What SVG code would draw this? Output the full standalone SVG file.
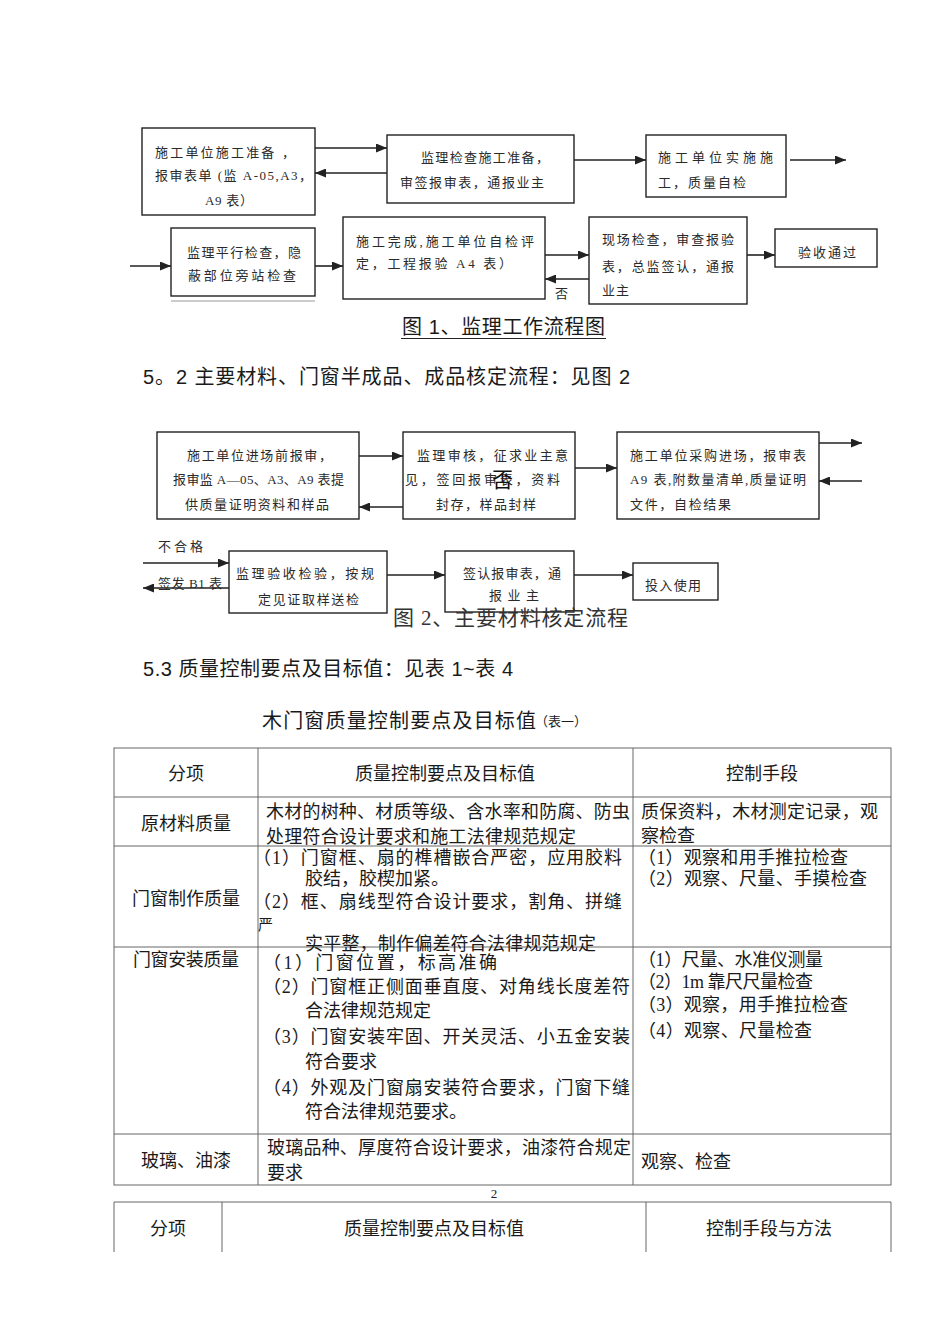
<svg xmlns="http://www.w3.org/2000/svg" width="950" height="1344" viewBox="0 0 950 1344">
<defs>
<marker id="ah" markerUnits="userSpaceOnUse" markerWidth="11" markerHeight="9" refX="11" refY="4.5" orient="auto">
<path d="M0,0 L11,4.5 L0,9 z" fill="#222"/>
</marker>
<style>
.bx{fill:none;stroke:#222;stroke-width:1.4}
.cn{fill:none;stroke:#222;stroke-width:1.6;marker-end:url(#ah)}
.ft{font-family:"Liberation Serif","Noto Sans CJK SC",serif;font-size:13px;fill:#2a2a2a}
.tb{font-family:"Liberation Serif","Noto Sans CJK SC",serif;font-size:18px;fill:#1a1a1a}
.hd{font-family:"Liberation Sans","Noto Sans CJK SC",sans-serif;font-size:20px;fill:#1a1a1a}
.c{text-anchor:middle}
.tl{stroke:#666;stroke-width:1;fill:none}
</style>
</defs>
<rect width="950" height="1344" fill="#fff"/>

<!-- Figure 1 -->
<g id="f1-a"><rect class="bx" x="142" y="128" width="173" height="87"/>
<text class="ft" x="155" y="157" textLength="140" lengthAdjust="spacing">施工单位施工准备 ，</text>
<text class="ft" x="155" y="180" textLength="157" lengthAdjust="spacing">报审表单 (监 A-05,A3，</text>
<text class="ft" x="205" y="205" textLength="48" lengthAdjust="spacing">A9 表）</text></g>
<g id="f1-b"><rect class="bx" x="387" y="135" width="187" height="68"/>
<text class="ft" x="421" y="162" textLength="128" lengthAdjust="spacing">监理检查施工准备，</text>
<text class="ft" x="400" y="187" textLength="144" lengthAdjust="spacing">审签报审表，通报业主</text></g>
<g id="f1-c"><rect class="bx" x="646" y="135" width="140" height="62"/>
<text class="ft" x="658" y="162" textLength="115" lengthAdjust="spacing">施工单位实施施</text>
<text class="ft" x="658" y="187" textLength="88" lengthAdjust="spacing">工，质量自检</text></g>
<g id="f1-d"><rect class="bx" x="171" y="228" width="144" height="68"/>
<line x1="171" y1="301" x2="315" y2="301" stroke="#999" stroke-width="1.2"/>
<text class="ft" x="187" y="257" textLength="114" lengthAdjust="spacing">监理平行检查，隐</text>
<text class="ft" x="188" y="280" textLength="108" lengthAdjust="spacing">蔽部位旁站检查</text></g>
<g id="f1-e"><rect class="bx" x="343" y="217" width="202" height="82"/>
<text class="ft" x="356" y="246" textLength="178" lengthAdjust="spacing">施工完成,施工单位自检评</text>
<text class="ft" x="356" y="268" textLength="156" lengthAdjust="spacing">定，工程报验 A4 表）</text></g>
<g id="f1-f"><rect class="bx" x="589" y="217" width="158" height="87"/>
<text class="ft" x="602" y="244" textLength="132" lengthAdjust="spacing">现场检查，审查报验</text>
<text class="ft" x="602" y="271" textLength="132" lengthAdjust="spacing">表，总监签认，通报</text>
<text class="ft" x="602" y="295" textLength="27" lengthAdjust="spacing">业主</text></g>
<g id="f1-g"><rect class="bx" x="775" y="229" width="102" height="38"/>
<text class="ft" x="798" y="257" textLength="58" lengthAdjust="spacing">验收通过</text></g>

<!-- Figure 2 -->
<g id="f2-h"><rect class="bx" x="157" y="432" width="202" height="87"/>
<text class="ft" x="187" y="460" textLength="145" lengthAdjust="spacing">施工单位进场前报审，</text>
<text class="ft" x="173" y="484" textLength="171" lengthAdjust="spacing">报审监 A—05、A3、A9 表提</text>
<text class="ft" x="185" y="509" textLength="144" lengthAdjust="spacing">供质量证明资料和样品</text></g>
<g id="f2-i"><rect class="bx" x="403" y="432" width="172" height="87"/>
<text class="ft" x="417" y="460" textLength="151" lengthAdjust="spacing">监理审核，征求业主意</text>
<text class="ft" x="405" y="484" textLength="155" lengthAdjust="spacing">见，签回报审表，资料</text>
<text class="ft" x="436" y="509" textLength="100" lengthAdjust="spacing">封存，样品封样</text></g>
<g id="f2-j"><rect class="bx" x="617" y="432" width="202" height="87"/>
<text class="ft" x="630" y="460" textLength="176" lengthAdjust="spacing">施工单位采购进场，报审表</text>
<text class="ft" x="630" y="484" textLength="176" lengthAdjust="spacing">A9 表,附数量清单,质量证明</text>
<text class="ft" x="630" y="509" textLength="101" lengthAdjust="spacing">文件，自检结果</text></g>
<g id="f2-k"><rect class="bx" x="229" y="551" width="158" height="62"/>
<text class="ft" x="236" y="578" textLength="138" lengthAdjust="spacing">监理验收检验，按规</text>
<text class="ft" x="258" y="604" textLength="101" lengthAdjust="spacing">定见证取样送检</text></g>
<g id="f2-l"><rect class="bx" x="445" y="551" width="129" height="61"/>
<text class="ft" x="463" y="578" textLength="98" lengthAdjust="spacing">签认报审表，通</text>
<text class="ft" x="489" y="600" textLength="50" lengthAdjust="spacing">报业主</text></g>
<g id="f2-m"><rect class="bx" x="633" y="563" width="85" height="37"/>
<text class="ft" x="645" y="590" textLength="56" lengthAdjust="spacing">投入使用</text></g>

<!-- Connectors -->
<g id="connectors">
<path class="cn" d="M315,148 H387"/>
<path class="cn" d="M387,173 H315"/>
<path class="cn" d="M574,160 H646"/>
<path class="cn" d="M790,160 H846"/>
<path class="cn" d="M130,266 H171"/>
<path class="cn" d="M315,266 H343"/>
<path class="cn" d="M545,255 H589"/>
<path class="cn" d="M589,279 H545"/>
<path class="cn" d="M747,255 H775"/>
<path class="cn" d="M359,456 H403"/>
<path class="cn" d="M403,507 H359"/>
<path class="cn" d="M575,468 H617"/>
<path class="cn" d="M819,443 H862"/>
<path class="cn" d="M862,481 H819"/>
<path class="cn" d="M143,563 H229"/>
<path class="cn" d="M229,588 H143"/>
<path class="cn" d="M387,575 H445"/>
<path class="cn" d="M574,575 H633"/>
<text class="ft" x="555" y="298">否</text>
<text x="492" y="487" style="font-family:'Noto Sans CJK SC',sans-serif;font-size:21px;fill:#111">否</text>
<text class="ft" x="158" y="551" textLength="45" lengthAdjust="spacing">不合格</text>
<text class="ft" x="158" y="588" textLength="64" lengthAdjust="spacing">签发 B1 表</text>
</g>

<!-- Captions and headings -->
<text class="hd" x="402" y="334" textLength="203" lengthAdjust="spacing">图 1、监理工作流程图</text>
<line x1="401" y1="338.5" x2="606" y2="338.5" stroke="#222" stroke-width="1"/>
<text class="hd" x="143" y="384" textLength="487" lengthAdjust="spacing">5。2 主要材料、门窗半成品、成品核定流程：见图 2</text>
<text x="393" y="625" textLength="235" lengthAdjust="spacing" style="font-family:'Liberation Serif','Noto Sans CJK SC',serif;font-size:21px;fill:#333">图 2、主要材料核定流程</text>
<text class="hd" x="143" y="676" textLength="370" lengthAdjust="spacing">5.3 质量控制要点及目标值：见表 1~表 4</text>
<text class="hd" x="262" y="728" textLength="274" lengthAdjust="spacing">木门窗质量控制要点及目标值</text>
<text x="535" y="726" style="font-family:'Liberation Serif','Noto Sans CJK SC',serif;font-size:13px;fill:#1a1a1a">（表一）</text>

<!-- Table 1 -->
<g id="table1">
<rect class="tl" x="114" y="748" width="777" height="437"/>
<line class="tl" x1="258" y1="748" x2="258" y2="1185"/>
<line class="tl" x1="633" y1="748" x2="633" y2="1185"/>
<line class="tl" x1="114" y1="797" x2="891" y2="797"/>
<line class="tl" x1="114" y1="846" x2="891" y2="846"/>
<line class="tl" x1="114" y1="947" x2="891" y2="947"/>
<line class="tl" x1="114" y1="1134" x2="891" y2="1134"/>
<text class="tb c" x="186" y="780">分项</text>
<text class="tb c" x="445" y="780">质量控制要点及目标值</text>
<text class="tb c" x="762" y="780">控制手段</text>
<text class="tb c" x="186" y="830">原材料质量</text>
<text class="tb" x="266" y="818" textLength="364" lengthAdjust="spacing">木材的树种、材质等级、含水率和防腐、防虫</text>
<text class="tb" x="266" y="843" textLength="310" lengthAdjust="spacing">处理符合设计要求和施工法律规范规定</text>
<text class="tb" x="641" y="818" textLength="237" lengthAdjust="spacing">质保资料，木材测定记录，观</text>
<text class="tb" x="641" y="842">察检查</text>
<text class="tb c" x="186" y="905">门窗制作质量</text>
<text class="tb" x="253" y="864" textLength="369" lengthAdjust="spacing">（1）门窗框、扇的榫槽嵌合严密，应用胶料</text>
<text class="tb" x="305" y="885">胶结，胶楔加紧。</text>
<text class="tb" x="253" y="908" textLength="369" lengthAdjust="spacing">（2）框、扇线型符合设计要求，割角、拼缝</text>
<text class="tb" x="258" y="930" style="font-size:15px">严</text>
<text class="tb" x="305" y="950" textLength="291" lengthAdjust="spacing">实平整，制作偏差符合法律规范规定</text>
<text class="tb" x="638" y="864" textLength="210" lengthAdjust="spacing">（1）观察和用手推拉检查</text>
<text class="tb" x="638" y="885" textLength="229" lengthAdjust="spacing">（2）观察、尺量、手摸检查</text>
<text class="tb" x="133" y="966" textLength="106" lengthAdjust="spacing">门窗安装质量</text>
<text class="tb" x="263" y="969" textLength="234" lengthAdjust="spacing">（1）门窗位置，标高准确</text>
<text class="tb" x="263" y="993" textLength="367" lengthAdjust="spacing">（2）门窗框正侧面垂直度、对角线长度差符</text>
<text class="tb" x="305" y="1017">合法律规范规定</text>
<text class="tb" x="263" y="1043" textLength="367" lengthAdjust="spacing">（3）门窗安装牢固、开关灵活、小五金安装</text>
<text class="tb" x="305" y="1068">符合要求</text>
<text class="tb" x="263" y="1094" textLength="367" lengthAdjust="spacing">（4）外观及门窗扇安装符合要求，门窗下缝</text>
<text class="tb" x="305" y="1118">符合法律规范要求。</text>
<text class="tb" x="638" y="966" textLength="185" lengthAdjust="spacing">（1）尺量、水准仪测量</text>
<text class="tb" x="638" y="988" textLength="175" lengthAdjust="spacing">（2）1m 靠尺尺量检查</text>
<text class="tb" x="638" y="1011" textLength="210" lengthAdjust="spacing">（3）观察，用手推拉检查</text>
<text class="tb" x="638" y="1037" textLength="174" lengthAdjust="spacing">（4）观察、尺量检查</text>
<text class="tb c" x="186" y="1167">玻璃、油漆</text>
<text class="tb" x="267" y="1154" textLength="364" lengthAdjust="spacing">玻璃品种、厚度符合设计要求，油漆符合规定</text>
<text class="tb" x="267" y="1179">要求</text>
<text class="tb" x="641" y="1168">观察、检查</text>
</g>
<text x="494" y="1198" text-anchor="middle" style="font-family:'Liberation Serif',serif;font-size:13px;fill:#222">2</text>

<!-- Table 2 -->
<g id="table2">
<line class="tl" x1="114" y1="1202" x2="891" y2="1202"/>
<line class="tl" x1="114" y1="1202" x2="114" y2="1252"/>
<line class="tl" x1="222" y1="1202" x2="222" y2="1252"/>
<line class="tl" x1="646" y1="1202" x2="646" y2="1252"/>
<line class="tl" x1="891" y1="1202" x2="891" y2="1252"/>
<text class="tb c" x="168" y="1235">分项</text>
<text class="tb c" x="434" y="1235">质量控制要点及目标值</text>
<text class="tb c" x="769" y="1235">控制手段与方法</text>
</g>
</svg>
